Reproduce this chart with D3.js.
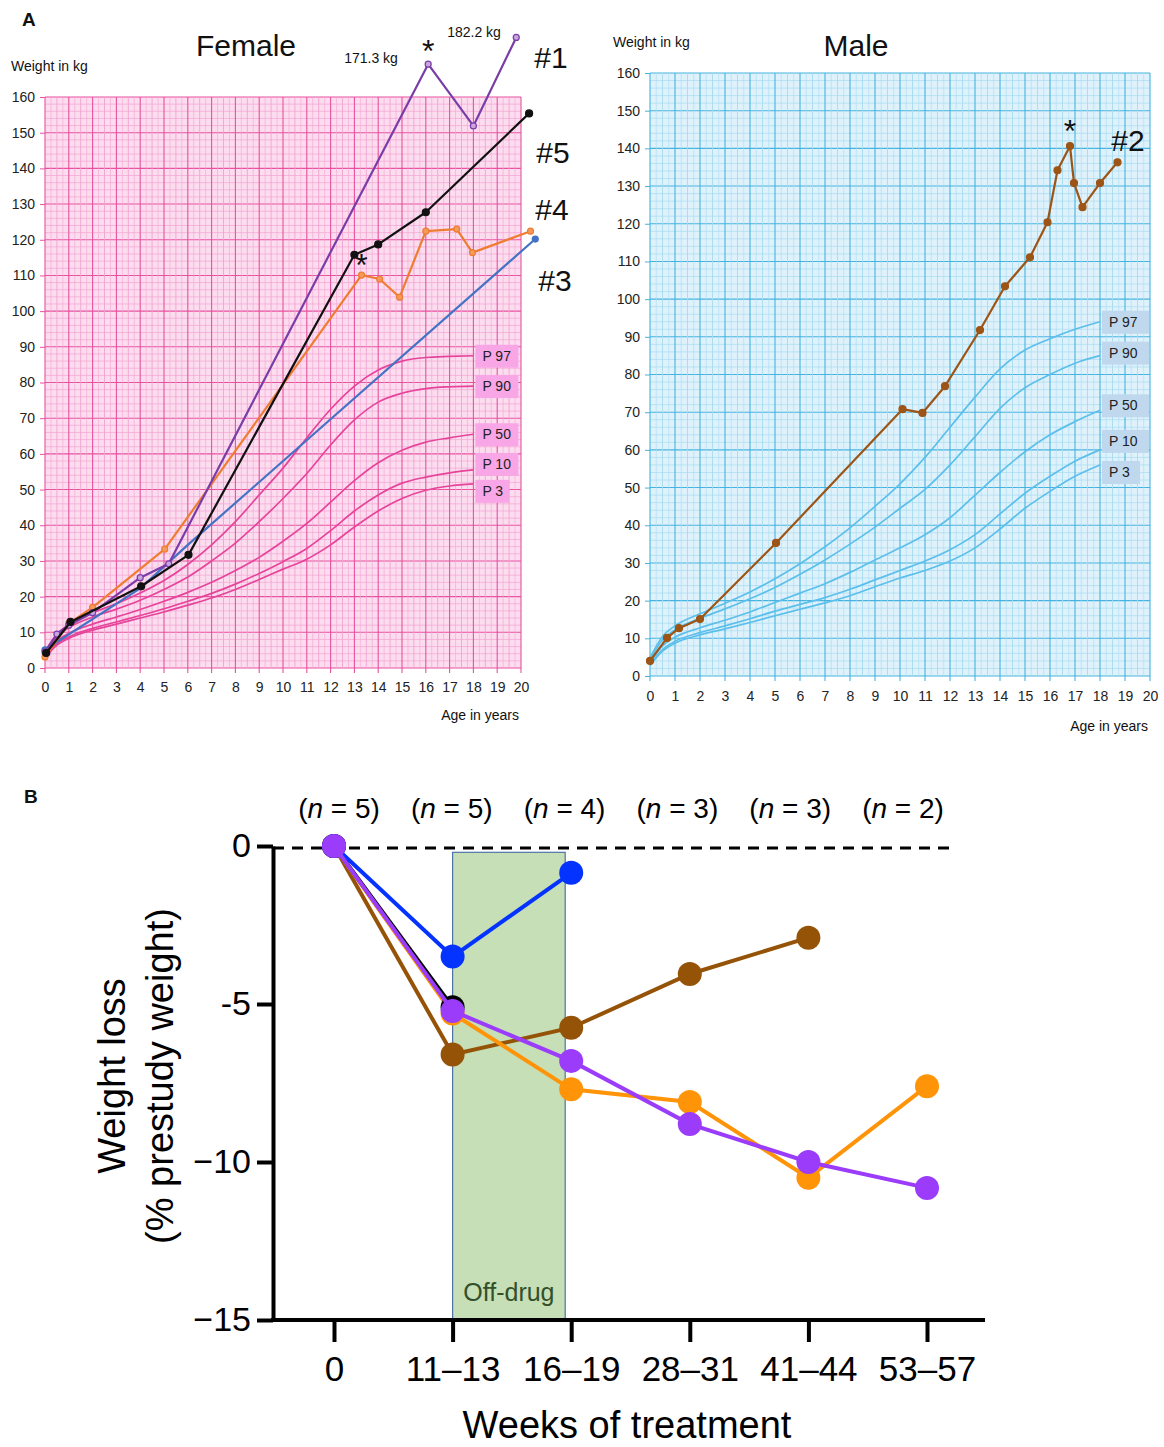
<!DOCTYPE html>
<html>
<head>
<meta charset="utf-8">
<script src="https://cdn.jsdelivr.net/npm/d3@7"></script>
<style>
  body { margin: 0; background: #fff; }
  svg { display: block; font-family: Arial, "Liberation Sans", Helvetica, sans-serif; }
</style>
</head>
<body>
<div id="chart"></div>
<script>
// ---- Panel A: growth charts ----
const pctAges = [0, 0.5, 1, 2, 3, 4, 5, 6, 7, 8, 9, 10, 11, 12, 13, 14, 15, 16, 17, 18];
const pctLabels = ["P 97", "P 90", "P 50", "P 10", "P 3"];

const femaleP97 = [4.6, 9.5, 12.2, 15.5, 18, 21, 24.5, 29, 34.5, 41, 48.5, 56, 64.5, 72.5, 79, 83.5, 86, 87, 87.3, 87.5];
const femaleP90 = [4.2, 8.8, 11.3, 14.3, 16.5, 19, 22, 25.5, 30, 35, 41, 47.5, 54.5, 62.5, 69.5, 74.5, 77, 78.3, 78.8, 79];
const femaleP50 = [3.4, 7.6, 9.7, 12.3, 14.3, 16.4, 18.7, 21.2, 24, 27.3, 31, 35.5, 40.5, 46.5, 52.5, 57.5, 61, 63.3, 64.5, 65.5];
const femaleP10 = [3.0, 6.8, 8.7, 11.1, 12.9, 14.7, 16.6, 18.7, 20.9, 23.5, 26.5, 29.8, 33.5, 38.5, 44, 48.5, 51.8, 53.5, 54.7, 55.5];
const femaleP3 = [2.8, 6.4, 8.3, 10.6, 12.3, 14, 15.7, 17.6, 19.6, 22, 24.8, 27.7, 30.5, 34.5, 39.5, 44, 47.5, 49.8, 51, 51.6];

const maleP97 = [4.8, 10.5, 13.3, 16.5, 19.3, 22.3, 25.8, 29.8, 34.3, 39.3, 45, 51, 58, 66, 74, 81.5, 86.5, 89.5, 92, 94];
const maleP90 = [4.4, 9.6, 12.3, 15.3, 17.8, 20.5, 23.5, 27, 30.8, 35, 39.5, 44.5, 49.5, 56, 63.5, 71, 76.5, 80, 83, 85];
const maleP50 = [3.5, 8, 10.3, 12.8, 14.8, 17, 19.5, 22, 24.5, 27.5, 30.8, 34, 37.5, 42, 48, 54, 59.5, 64, 67.5, 70.5];
const maleP10 = [3.0, 7, 9.2, 11.5, 13.3, 15.2, 17.2, 19, 20.8, 23, 25.5, 28, 30.5, 33.5, 37.5, 43, 48.5, 53, 57, 60];
const maleP3 = [2.8, 6.6, 8.7, 10.9, 12.5, 14.2, 16, 17.7, 19.4, 21.3, 23.7, 26, 28, 30.5, 34, 39, 44.5, 49, 53, 56];

// patients (age in years, weight in kg)
const p1Age = [0, 0.5, 1, 2, 4, 5.2, 16.1, 18, 19.8];
const p1Weight = [4.5, 9.5, 12, 15.5, 25.3, 29.2, 169.2, 151.9, 176.7];
const p5Age = [0.05, 1.07, 4.04, 6.03, 13, 14, 16, 20.34];
const p5Weight = [4.2, 12.9, 22.9, 31.7, 115.8, 118.7, 127.7, 155.4];
const p4Age = [0, 1, 2, 5.03, 13.3, 14.06, 14.9, 16, 17.3, 17.96, 20.4];
const p4Weight = [3.1, 12.5, 17, 33.3, 110.1, 109, 103.9, 122.4, 123, 116.4, 122.4];
const p3Age = [0, 4, 6, 20.6];
const p3Weight = [5.1, 22.3, 34.5, 120.2];
const p2Age = [0, 0.68, 1.16, 2, 5.04, 10.1, 10.9, 11.8, 13.2, 14.2, 15.2, 15.9, 16.3, 16.8, 16.96, 17.3, 18, 18.7];
const p2Weight = [4, 10.1, 12.7, 15.1, 35.3, 70.8, 69.8, 76.9, 91.8, 103.4, 111.1, 120.4, 134.2, 140.6, 130.8, 124.4, 130.8, 136.3];

// ---- Panel B: weight loss ----
const weekCats = ["0", "11–13", "16–19", "28–31", "41–44", "53–57"];
const nCounts = ["5", "5", "4", "3", "3", "2"];
const lossBrown = [0, -6.6, -5.75, -4.05, -2.9, null];
const lossOrange = [0, -5.3, -7.7, -8.1, -10.5, -7.6];
const lossBlack = [0, -5.1, null, null, null, null];
const lossBlue = [0, -3.5, -0.85, null, null, null];
const lossPurple = [0, -5.22, -6.8, -8.8, -10.0, -10.82];
const yTickValues = [0, -5, -10, -15];
const yTickLabels = ["0", "-5", "\u221210", "\u221215"];

const width = 1164, height = 1447;
const svg = d3.select("#chart").append("svg")
  .attr("width", width).attr("height", height)
  .attr("viewBox", [0, 0, width, height]);
svg.append("rect").attr("width", width).attr("height", height).attr("fill", "#fff");

function drawGrowth(opts) {
  const { x, y, bg, minor, major, curve, boxFill, percentiles, nudges, boxW, pad } = opts;
  const g = svg.append("g");
  const [x0, x1] = x.range();
  const [y0, y1] = y.range();

  g.append("rect").attr("x", x0).attr("y", y1).attr("width", x1 - x0).attr("height", y0 - y1).attr("fill", bg);

  d3.range(0, 160.01, 2).forEach((v) => {
    const isMajor = v % 10 === 0;
    g.append("line")
      .attr("x1", x0).attr("x2", x1).attr("y1", y(v)).attr("y2", y(v))
      .attr("stroke", isMajor ? major : minor)
      .attr("stroke-width", isMajor ? 1.1 : 0.7);
  });
  d3.range(0, 20.01, 0.25).forEach((v) => {
    const isMajor = Math.abs(v - Math.round(v)) < 1e-6;
    const isHalf = Math.abs(v * 2 - Math.round(v * 2)) < 1e-6;
    g.append("line")
      .attr("y1", y0 + (isMajor ? 5 : 0)).attr("y2", y1).attr("x1", x(v)).attr("x2", x(v))
      .attr("stroke", isMajor ? major : minor)
      .attr("stroke-width", isMajor ? 1.1 : isHalf ? 0.9 : 0.6);
  });

  g.append("g")
    .attr("transform", `translate(${x0},0)`)
    .call(d3.axisLeft(y).tickValues(d3.range(0, 161, 10)).tickSize(5).tickPadding(5).tickSizeOuter(0))
    .call((a) => a.select(".domain").remove())
    .call((a) => a.selectAll(".tick line").attr("stroke", major))
    .call((a) => a.selectAll(".tick text").attr("fill", "#222").style("font-size", "14px").style("font-family", "Arial, 'Liberation Sans', sans-serif"));

  g.append("g")
    .attr("transform", `translate(0,${y0})`)
    .call(d3.axisBottom(x).tickValues(d3.range(0, 21, 1)).tickSize(0).tickPadding(pad).tickSizeOuter(0))
    .call((a) => a.select(".domain").remove())
    .call((a) => a.selectAll(".tick text").attr("fill", "#222").style("font-size", "14px").style("font-family", "Arial, 'Liberation Sans', sans-serif"));

  const line = d3.line().x((d, i) => x(pctAges[i])).y((d) => y(d)).curve(d3.curveMonotoneX);
  percentiles.forEach((vals, i) => {
    g.append("path").datum(vals)
      .attr("fill", "none").attr("stroke", curve).attr("stroke-width", 1.7)
      .attr("d", line);
    const yy = y(vals[vals.length - 1]) + nudges[i];
    const bx = x(18) + 2;
    const w = pctLabels[i].length > 3 ? boxW : boxW - 9;
    g.append("rect").attr("x", bx).attr("y", yy - 11).attr("width", w).attr("height", 23).attr("fill", boxFill);
    g.append("text").attr("x", bx + 7).attr("y", yy + 5)
      .attr("fill", "#222").style("font-size", "14px").text(pctLabels[i]);
  });
  return g;
}

const xF = d3.scaleLinear().domain([0, 20]).range([45, 521]);
const yF = d3.scaleLinear().domain([0, 160]).range([668, 97]);
const xM = d3.scaleLinear().domain([0, 20]).range([650, 1150]);
const yM = d3.scaleLinear().domain([0, 160]).range([676, 73]);

drawGrowth({
  x: xF, y: yF, bg: "#FCDDF0", minor: "#F3A3D0", major: "#E8519E", curve: "#E6449A",
  boxFill: "#F8A6E6", percentiles: [femaleP97, femaleP90, femaleP50, femaleP10, femaleP3],
  nudges: [0, 0, 0, -6, 7], boxW: 43, pad: 14,
});
drawGrowth({
  x: xM, y: yM, bg: "#DFF2FB", minor: "#A6DBF1", major: "#44B3E0", curve: "#5CBFEB",
  boxFill: "#BFD8EE", percentiles: [maleP97, maleP90, maleP50, maleP10, maleP3],
  nudges: [0, -3, -5, -9, 7], boxW: 47, pad: 15,
});

function drawPatient(x, y, ages, weights, color, dotFill, r, dotsAt) {
  const pts = ages.map((a, i) => [a, weights[i]]);
  svg.append("path").datum(pts)
    .attr("fill", "none").attr("stroke", color).attr("stroke-width", 2.2)
    .attr("stroke-linejoin", "round")
    .attr("d", d3.line().x((d) => x(d[0])).y((d) => y(d[1])));
  svg.append("g").selectAll("circle")
    .data(pts.filter((d, i) => !dotsAt || dotsAt.includes(i)))
    .join("circle")
    .attr("cx", (d) => x(d[0])).attr("cy", (d) => y(d[1])).attr("r", r)
    .attr("fill", dotFill).attr("stroke", color).attr("stroke-width", 1.2);
}

drawPatient(xF, yF, p3Age, p3Weight, "#4472C4", "#4472C4", 3, [0, 3]);
drawPatient(xF, yF, p4Age, p4Weight, "#EE7D31", "#F39A5C", 3, null);
drawPatient(xF, yF, p1Age, p1Weight, "#7A3DA8", "#C8A6DE", 3, null);
drawPatient(xF, yF, p5Age, p5Weight, "#111111", "#111111", 3.5, null);
drawPatient(xM, yM, p2Age, p2Weight, "#9C5516", "#9C5516", 3.5, null);

// Panel A texts
const txt = (x, y, s, size, opts = {}) => svg.append("text")
  .attr("x", x).attr("y", y).attr("text-anchor", opts.anchor || "start")
  .attr("fill", opts.fill || "#111")
  .style("font-size", `${size}px`).style("font-weight", opts.weight || "normal")
  .style("font-style", opts.style || "normal")
  .text(s);

txt(22, 26, "A", 19, { weight: "bold" });
txt(11, 71, "Weight in kg", 14);
txt(246, 56, "Female", 30, { anchor: "middle" });
txt(519, 720, "Age in years", 14, { anchor: "end" });
txt(371, 63, "171.3 kg", 14, { anchor: "middle" });
txt(474, 37, "182.2 kg", 14, { anchor: "middle" });
txt(xF(16.1), yF(169.2) - 2, "*", 32, { anchor: "middle" });
txt(xF(13.3), yF(110.1) + 1, "*", 32, { anchor: "middle" });
txt(551, 68, "#1", 30, { anchor: "middle" });
txt(553, 163, "#5", 30, { anchor: "middle" });
txt(552, 220, "#4", 30, { anchor: "middle" });
txt(555, 291, "#3", 30, { anchor: "middle" });

txt(613, 47, "Weight in kg", 14);
txt(856, 56, "Male", 30, { anchor: "middle" });
txt(1148, 731, "Age in years", 14, { anchor: "end" });
txt(xM(16.8), yM(140.6) - 4, "*", 32, { anchor: "middle" });
txt(1128, 151, "#2", 30, { anchor: "middle" });

// ---- Panel B ----
const xB = d3.scalePoint().domain(weekCats).range([334, 927]);
const xN = d3.scalePoint().domain(weekCats).range([339, 903]);
const yB = d3.scaleLinear().domain([-15, 0]).range([1320, 846]);
const axisX = 273;

txt(24, 803, "B", 19, { weight: "bold" });

// off-drug window
svg.append("rect")
  .attr("x", xB(weekCats[1])).attr("y", yB(-0.2))
  .attr("width", xB(weekCats[2]) - xB(weekCats[1]) - 6)
  .attr("height", yB(-15) - yB(-0.2))
  .attr("fill", "#C6DFB6").attr("stroke", "#4F72A8").attr("stroke-width", 1.2);
txt((xB(weekCats[1]) + xB(weekCats[2]) - 6) / 2, 1301, "Off-drug", 25, { anchor: "middle", fill: "#33502A" });

// zero line
svg.append("line")
  .attr("x1", axisX).attr("x2", 955).attr("y1", yB(0) + 2).attr("y2", yB(0) + 2)
  .attr("stroke", "#000").attr("stroke-width", 3).attr("stroke-dasharray", "11,8");

// y axis
svg.append("g")
  .attr("transform", `translate(${axisX},0)`)
  .call(d3.axisLeft(yB).tickValues(yTickValues).tickSize(16).tickPadding(6).tickSizeOuter(0)
    .tickFormat((d, i) => yTickLabels[i]))
  .call((a) => a.select(".domain").attr("stroke-width", 4))
  .call((a) => a.selectAll(".tick line").attr("stroke-width", 4))
  .call((a) => a.selectAll(".tick text").attr("fill", "#000").style("font-size", "34px").style("font-family", "Arial, 'Liberation Sans', sans-serif"));

// x axis
svg.append("g")
  .attr("transform", `translate(0,${yB(-15)})`)
  .call(d3.axisBottom(xB).tickSize(22).tickPadding(14).tickSizeOuter(0))
  .call((a) => a.select(".domain").remove())
  .call((a) => a.selectAll(".tick line").attr("stroke-width", 4))
  .call((a) => a.selectAll(".tick text").attr("fill", "#000").style("font-size", "35px").style("font-family", "Arial, 'Liberation Sans', sans-serif"));
svg.append("line")
  .attr("x1", axisX - 2).attr("x2", 985).attr("y1", yB(-15)).attr("y2", yB(-15))
  .attr("stroke", "#000").attr("stroke-width", 4);

// n labels
weekCats.forEach((c, i) => {
  const t = svg.append("text").attr("x", xN(c)).attr("y", 818).attr("text-anchor", "middle")
    .style("font-size", "28px").attr("fill", "#000");
  t.append("tspan").text("(");
  t.append("tspan").style("font-style", "italic").text("n");
  t.append("tspan").text(` = ${nCounts[i]})`);
});

// axis titles
svg.append("text").attr("transform", "translate(112,1076) rotate(-90)")
  .attr("text-anchor", "middle").attr("dominant-baseline", "central")
  .style("font-size", "38px").text("Weight loss");
svg.append("text").attr("transform", "translate(160,1076) rotate(-90)")
  .attr("text-anchor", "middle").attr("dominant-baseline", "central")
  .style("font-size", "38px").text("(% prestudy weight)");
txt(627, 1438, "Weeks of treatment", 38, { anchor: "middle", fill: "#000" });

const lossSeries = [
  { values: lossBrown, color: "#955307" },
  { values: lossOrange, color: "#FF9408" },
  { values: lossBlack, color: "#000000" },
  { values: lossBlue, color: "#0433FF" },
  { values: lossPurple, color: "#9A3CFA" },
];
const lossLine = d3.line()
  .defined((d) => d != null)
  .x((d, i) => xB(weekCats[i]))
  .y((d) => yB(d));
lossSeries.forEach((s) => {
  svg.append("path").datum(s.values)
    .attr("fill", "none").attr("stroke", s.color).attr("stroke-width", 4)
    .attr("d", lossLine);
  svg.append("g").selectAll("circle")
    .data(s.values.map((v, i) => ({ v, c: weekCats[i] })).filter((d) => d.v != null))
    .join("circle")
    .attr("cx", (d) => xB(d.c)).attr("cy", (d) => yB(d.v)).attr("r", 12)
    .attr("fill", s.color);
});
</script>
</body>
</html>
